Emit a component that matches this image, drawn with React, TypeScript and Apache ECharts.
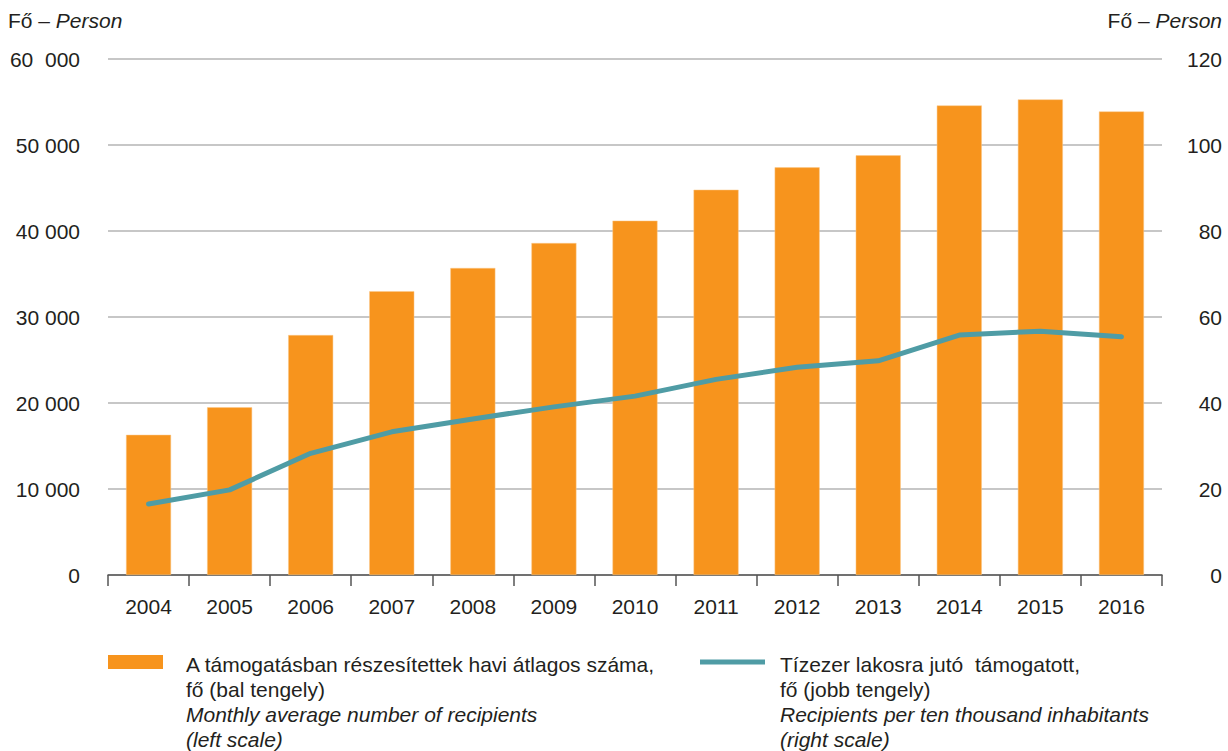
import React, { useEffect, useRef } from "react";
import * as echarts from "echarts";

const years = ["2004","2005","2006","2007","2008","2009","2010","2011","2012","2013","2014","2015","2016"];
const recipients = [16300, 19500, 27900, 33000, 35700, 38600, 41200, 44800, 47400, 48800, 54600, 55300, 53900];
const perTenThousand = [16.5, 19.8, 28.3, 33.3, 36.3, 39.1, 41.6, 45.5, 48.3, 49.8, 55.8, 56.7, 55.4];
const leftTickLabels = ["0", "10 000", "20 000", "30 000", "40 000", "50 000", "60  000"];
const rightTickLabels = ["0", "20", "40", "60", "80", "100", "120"];

const ORANGE = "#F7941D";
const TEAL = "#4F9CA5";
const FONT = "Liberation Sans, Arial, sans-serif";
const TXT = "#231f20";

export default function App() {
  const ref = useRef<HTMLDivElement>(null);
  useEffect(() => {
    if (!ref.current) return;
    const chart = echarts.init(ref.current, null, { renderer: "svg" });
    const fs = 21;
    const rich = {
      a: { fontSize: fs, fill: TXT, fontFamily: FONT, lineHeight: 25 },
      b: { fontSize: fs, fill: TXT, fontFamily: FONT, fontStyle: "italic", lineHeight: 25 },
    };
    chart.setOption({
      animation: false,
      textStyle: { fontFamily: FONT },
      grid: { left: 108, right: 66, top: 59, bottom: 176, containLabel: false },
      xAxis: {
        type: "category",
        data: years,
        boundaryGap: true,
        axisLine: { lineStyle: { color: "#555", width: 1.5 } },
        axisTick: { show: true, length: 11, lineStyle: { color: "#555", width: 1.5 } },
        axisLabel: { color: TXT, fontSize: fs, margin: 21, fontFamily: FONT },
      },
      yAxis: [
        {
          type: "value", min: 0, max: 60000, interval: 10000, position: "left",
          axisLine: { show: false }, axisTick: { show: false },
          splitLine: { lineStyle: { color: "#b5b5b5", width: 1.5 } },
          axisLabel: {
            color: TXT, fontSize: fs, margin: 28, fontFamily: FONT,
            formatter: (v: number) => leftTickLabels[Math.round(v / 10000)] ?? "",
          },
        },
        {
          type: "value", min: 0, max: 120, interval: 20, position: "right",
          axisLine: { show: false }, axisTick: { show: false }, splitLine: { show: false },
          axisLabel: {
            color: TXT, fontSize: fs, margin: 60, align: "right", fontFamily: FONT,
            formatter: (v: number) => rightTickLabels[Math.round(v / 20)] ?? "",
          },
        },
      ],
      series: [
        {
          type: "bar", data: recipients, yAxisIndex: 0, barWidth: 45,
          itemStyle: { color: ORANGE, borderColor: "#FBC98A", borderWidth: 0.5 },
          z: 2,
        },
        {
          type: "line", data: perTenThousand, yAxisIndex: 1, symbol: "none",
          lineStyle: { color: TEAL, width: 5, cap: "round", join: "round" },
          z: 3,
        },
      ],
      graphic: [
        {
          type: "text", left: 8, top: 10,
          style: { text: "{a|Fő – }{b|Person}", rich },
        },
        {
          type: "text", right: 6, top: 10,
          style: { text: "{a|Fő – }{b|Person}", rich },
        },
        { type: "rect", shape: { x: 108, y: 655, width: 55, height: 14 }, style: { fill: ORANGE } },
        {
          type: "text", x: 186, y: 652,
          style: {
            text: "{a|A támogatásban részesítettek havi átlagos száma,}\n{a|fő (bal tengely)}\n{b|Monthly average number of recipients}\n{b|(left scale)}",
            rich,
          },
        },
        { type: "line", shape: { x1: 700, y1: 662, x2: 765, y2: 662 }, style: { stroke: TEAL, lineWidth: 5 } },
        {
          type: "text", x: 780, y: 652,
          style: {
            text: "{a|Tízezer lakosra jutó  támogatott,}\n{a|fő (jobb tengely)}\n{b|Recipients per ten thousand inhabitants}\n{b|(right scale)}",
            rich,
          },
        },
      ],
    });
    return () => chart.dispose();
  }, []);
  return <div ref={ref} style={{ width: 1228, height: 751, position: "absolute", left: 0, top: 0 }} />;
}
